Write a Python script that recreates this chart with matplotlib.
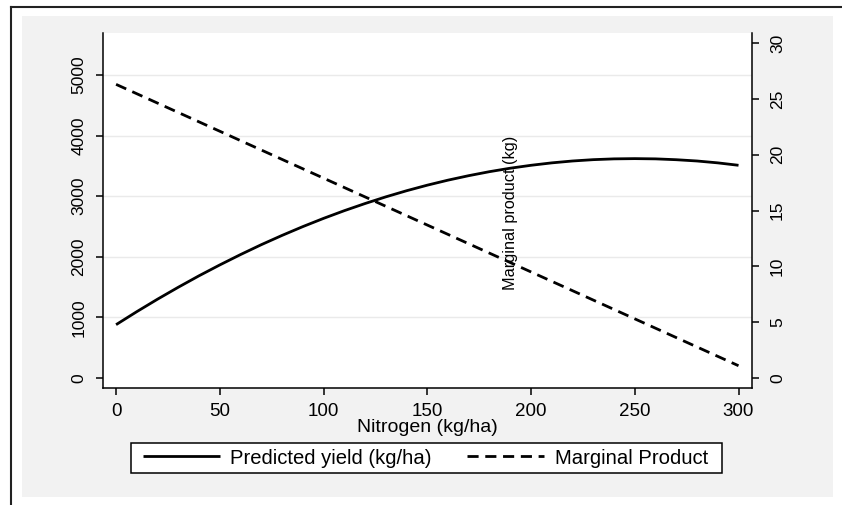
import matplotlib
matplotlib.use("Agg")
import matplotlib.pyplot as plt
from matplotlib.patches import Rectangle

plt.rcParams['font.family'] = ['Liberation Sans', 'DejaVu Sans']

# values
nitrogen = [0, 10, 20, 30, 40, 50, 60, 70, 80, 90, 100, 110, 120, 130, 140, 150,
            160, 170, 180, 190, 200, 210, 220, 230, 240, 250, 260, 270, 280, 290, 300]
yield_pred = [880, 1095, 1301, 1498, 1687, 1866, 2037, 2200, 2353, 2498, 2634, 2761,
              2879, 2989, 3090, 3182, 3265, 3339, 3405, 3462, 3510, 3550, 3581, 3603,
              3616, 3620, 3616, 3602, 3581, 3550, 3510]
mp_n = [0, 50, 100, 150, 200, 250, 300]
mp_vals = [26.3, 22.1, 17.9, 13.7, 9.5, 5.3, 1.1]

x_ticks = [0, 50, 100, 150, 200, 250, 300]
y_ticks = [0, 1000, 2000, 3000, 4000, 5000]
y2_ticks = [0, 5, 10, 15, 20, 25, 30]

W, H = 842, 505
fig = plt.figure(figsize=(W / 100, H / 100), dpi=100)
fig.patch.set_facecolor('white')

# stata-like graph region, drawn in pixel coords on a background axes
bg = fig.add_axes([0, 0, 1, 1], zorder=-5)
bg.set_xlim(0, W)
bg.set_ylim(H, 0)
bg.axis('off')
bg.add_patch(Rectangle((21.5, 16), 833 - 21.5, 497 - 16, facecolor='#f2f2f2', edgecolor='none'))
bg.plot([11, W + 2], [7, 7], color='#222222', lw=1.5)
bg.plot([11, 11], [7, H + 2], color='#222222', lw=1.5)
# legend box
bg.add_patch(Rectangle((130.5, 443), 722 - 130.5, 30, facecolor='white',
                       edgecolor='black', lw=1.1))

ax = fig.add_axes([103 / W, 1 - 388 / H, (752 - 103) / W, (388 - 33) / H])
ax.set_facecolor('white')
ax2 = ax.twinx()

l1, = ax.plot(nitrogen, yield_pred, color='black', lw=2, solid_capstyle='butt')
l2, = ax2.plot(mp_n, mp_vals, color='black', lw=2, dashes=(4, 2.4))

ax.set_xlim(-6.3, 306.5)
ax.set_ylim(-165, 5693)
ax2.set_ylim(-0.895, 30.9)

ax.set_xticks(x_ticks)
ax.set_yticks(y_ticks)
ax2.set_yticks(y2_ticks)
for g in y_ticks[1:]:
    ax.axhline(g, color='#eaeaea', lw=1, zorder=0)

for a in (ax, ax2):
    a.spines['top'].set_visible(False)
    for s in a.spines.values():
        s.set_linewidth(1.1)
ax.spines['right'].set_visible(False)
ax2.spines['left'].set_visible(False)
ax2.spines['bottom'].set_visible(False)

ax.tick_params(axis='x', length=5, width=1.1, pad=6, labelsize=13.5)
ax.tick_params(axis='y', length=5, width=1.1, pad=7, labelsize=12.5)
ax2.tick_params(axis='y', length=5, width=1.1, pad=8, labelsize=12.5)
for lab in ax.get_yticklabels():
    lab.set_rotation(90)
    lab.set_va('center')
for lab in ax2.get_yticklabels():
    lab.set_rotation(90)
    lab.set_va('center')

ax.set_xlabel('Nitrogen (kg/ha)', fontsize=14, labelpad=-1)
fig.text(510 / W, 1 - 213 / H, 'Marginal product (kg)', rotation=90,
         ha='center', va='center', fontsize=11.7)

leg = fig.legend([l1, l2], ['Predicted yield (kg/ha)', 'Marginal Product'],
                 loc='center', bbox_to_anchor=(425.5 / W, 1 - 458 / H), ncol=2,
                 fontsize=14.6, handlelength=3.8, handletextpad=0.5,
                 columnspacing=1.75, borderpad=0.25, frameon=False)

fig.savefig('out.png', dpi=100)
